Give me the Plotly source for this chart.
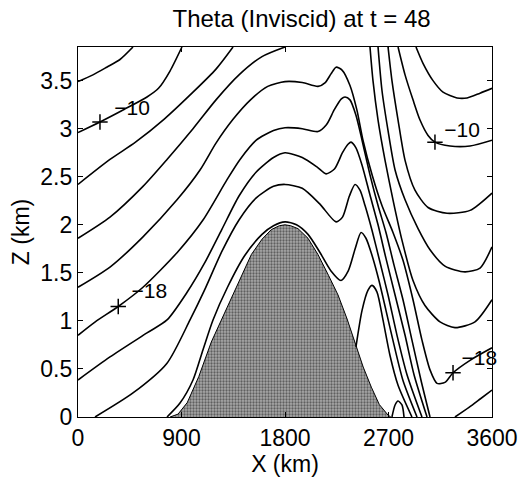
import plotly.graph_objects as go

# ---------------- data (km) ----------------
mountain_x = [800, 870, 950, 1050, 1159, 1250, 1333, 1420, 1507, 1600, 1681, 1750, 1800, 1850, 1913, 2000, 2087, 2180, 2261, 2340, 2406, 2480, 2551, 2620, 2696, 2720]
mountain_z = [0, 0.03, 0.15, 0.42, 0.78, 1.02, 1.23, 1.47, 1.69, 1.85, 1.95, 1.99, 2.0, 1.99, 1.96, 1.86, 1.69, 1.47, 1.27, 1.02, 0.78, 0.52, 0.31, 0.13, 0.02, 0]

# upstream contours leaving through the top
c8a_x = [0, 130, 250, 365, 478]
c8a_z = [3.49, 3.56, 3.64, 3.72, 3.85]
c10a_x = [0, 191, 400, 600, 700, 800, 904]
c10a_z = [2.96, 3.07, 3.20, 3.33, 3.42, 3.60, 3.85]
c12a_x = [0, 278, 500, 750, 1000, 1200, 1348]
c12a_z = [2.42, 2.68, 2.86, 3.10, 3.38, 3.62, 3.85]
c14a_x = [0, 278, 565, 774, 1000, 1200, 1400, 1600, 1800]
c14a_z = [1.86, 2.08, 2.40, 2.68, 3.00, 3.30, 3.56, 3.75, 3.85]

# lee contours entering through the top and turning to the right edge
t1_x = [2939, 3000, 3087, 3174, 3296, 3383, 3496, 3600]
t1_z = [3.85, 3.68, 3.50, 3.38, 3.32, 3.32, 3.37, 3.42]
t2_x = [2783, 2844, 2913, 2974, 3044, 3104, 3235, 3409, 3600]
t2_z = [3.85, 3.56, 3.30, 3.09, 2.93, 2.86, 2.82, 2.82, 2.88]
t3_x = [2696, 2730, 2783, 2844, 2930, 3044, 3209, 3409, 3600]
t3_z = [3.85, 3.50, 3.09, 2.67, 2.36, 2.18, 2.12, 2.15, 2.33]
t4_x = [2609, 2643, 2696, 2757, 2844, 2957, 3061, 3191, 3365, 3496, 3600]
t4_z = [3.85, 3.40, 2.98, 2.57, 2.26, 1.96, 1.74, 1.57, 1.51, 1.55, 1.77]
t5_x = [2539, 2565, 2609, 2670, 2739, 2817, 2913, 3017, 3148, 3278, 3452, 3600]
t5_z = [3.85, 3.50, 3.09, 2.67, 2.26, 1.84, 1.42, 1.16, 0.99, 0.93, 0.99, 1.22]

# contours crossing over the mountain
e_x = [0, 278, 565, 861, 1061, 1200, 1350, 1500, 1650, 1800, 1950, 2087, 2150, 2200, 2244, 2296, 2365, 2426, 2478, 2557, 2643, 2739, 2826, 2913, 2991, 3061, 3122, 3191, 3261, 3409, 3600]
e_z = [1.35, 1.56, 1.875, 2.26, 2.57, 2.85, 3.10, 3.30, 3.44, 3.49, 3.48, 3.44, 3.48, 3.57, 3.64, 3.61, 3.45, 3.19, 2.88, 2.52, 2.20, 1.92, 1.63, 1.22, 0.80, 0.49, 0.35, 0.36, 0.46, 0.59, 0.72]
f_x = [0, 150, 350, 565, 861, 1087, 1296, 1409, 1550, 1700, 1800, 1950, 2087, 2160, 2230, 2290, 2322, 2365, 2417, 2470, 2539, 2609, 2678, 2748, 2826, 2904, 2983, 3061]
f_z = [0.85, 0.99, 1.15, 1.35, 1.71, 2.05, 2.47, 2.68, 2.88, 2.98, 3.01, 3.00, 2.97, 3.04, 3.20, 3.31, 3.33, 3.30, 3.14, 2.88, 2.52, 2.20, 1.92, 1.58, 1.22, 0.80, 0.38, 0]
g_x = [0, 278, 600, 774, 950, 1100, 1250, 1400, 1550, 1700, 1800, 1950, 2080, 2157, 2230, 2300, 2350, 2374, 2417, 2470, 2539, 2609, 2678, 2757, 2844, 2922, 3035]
g_z = [0.385, 0.625, 0.875, 1.01, 1.30, 1.60, 1.95, 2.30, 2.55, 2.70, 2.75, 2.70, 2.60, 2.53, 2.58, 2.75, 2.84, 2.86, 2.80, 2.62, 2.31, 2.00, 1.65, 1.27, 0.85, 0.44, 0]
h_x = [148, 478, 774, 974, 1100, 1250, 1400, 1550, 1700, 1800, 1950, 2100, 2244, 2300, 2360, 2409, 2452, 2496, 2557, 2626, 2696, 2774, 2861, 2991]
h_z = [0, 0.25, 0.56, 1.01, 1.32, 1.72, 2.05, 2.28, 2.40, 2.42, 2.38, 2.22, 2.03, 2.08, 2.30, 2.42, 2.36, 2.20, 1.94, 1.61, 1.27, 0.85, 0.44, 0]
i_x = [774, 887, 1000, 1087, 1174, 1300, 1450, 1600, 1700, 1800, 1900, 2000, 2100, 2200, 2287, 2350, 2410, 2461, 2504, 2557, 2617, 2678, 2748, 2826, 2948]
i_z = [0, 0.145, 0.385, 0.70, 1.01, 1.35, 1.68, 1.90, 1.99, 2.03, 2.00, 1.90, 1.72, 1.52, 1.42, 1.52, 1.75, 1.92, 1.86, 1.68, 1.42, 1.11, 0.75, 0.38, 0]
j_x = [2417, 2470, 2522, 2557, 2600, 2652, 2713, 2783, 2904]
j_z = [0.73, 1.11, 1.32, 1.37, 1.30, 1.01, 0.64, 0.33, 0]
# small closed features near the lee surface and the far-right surface contour
k_x = [2730, 2757, 2783, 2817, 2835]
k_z = [0, 0.125, 0.166, 0.125, 0]
m_x = [3278, 3400, 3500, 3600]
m_z = [0, 0.10, 0.19, 0.28]

# contour labels
label_text = ["\u221210", "\u221218", "\u221210", "\u221218"]
label_x = [470, 620, 3340, 3490]
label_z = [3.20, 1.29, 2.97, 0.60]
mark_x = [191, 350, 3104, 3261]
mark_z = [3.07, 1.15, 2.86, 0.46]

x_ticks = [0, 900, 1800, 2700, 3600]
z_ticks = [0, 0.5, 1, 1.5, 2, 2.5, 3, 3.5]

FONT = "Liberation Sans, Arial, Helvetica"

# ---------------- figure ----------------
fig = go.Figure()
fig.add_trace(go.Scatter(
    x=mountain_x, y=mountain_z, mode="lines", fill="toself",
    fillcolor="#8e8e8e",
    fillpattern=dict(shape=".", fgcolor="#151515", bgcolor="#a8a8a8", size=3, solidity=0.45),
    line=dict(color="black", width=1), hoverinfo="skip", showlegend=False))

lines = [(c8a_x, c8a_z), (c10a_x, c10a_z), (c12a_x, c12a_z), (c14a_x, c14a_z),
         (t1_x, t1_z), (t2_x, t2_z), (t3_x, t3_z), (t4_x, t4_z), (t5_x, t5_z),
         (e_x, e_z), (f_x, f_z), (g_x, g_z), (h_x, h_z), (i_x, i_z), (j_x, j_z),
         (k_x, k_z), (m_x, m_z)]
for lx, lz in lines:
    fig.add_trace(go.Scatter(x=lx, y=lz, mode="lines",
                             line=dict(color="black", width=1.6, shape="spline", smoothing=0.7),
                             hoverinfo="skip", showlegend=False))

fig.add_trace(go.Scatter(x=mark_x, y=mark_z, mode="markers",
                         marker=dict(symbol="cross-thin", size=11, line=dict(color="black", width=1.5)),
                         hoverinfo="skip", showlegend=False))
fig.add_trace(go.Scatter(x=label_x, y=label_z, mode="text", text=label_text,
                         textfont=dict(family=FONT, size=21, color="black"),
                         hoverinfo="skip", showlegend=False, cliponaxis=False))

axis_common = dict(showgrid=False, zeroline=False, showline=True, linecolor="black", linewidth=1.2,
                   mirror="ticks", ticks="inside", ticklen=5, tickcolor="black", automargin=False,
                   tickfont=dict(family=FONT, size=23, color="black"))
fig.update_layout(
    width=522, height=484,
    margin=dict(l=78, r=30, t=47, b=67),
    paper_bgcolor="white", plot_bgcolor="white",
    title=dict(text="Theta (Inviscid) at t = 48", xref="paper", x=0.54, xanchor="center",
               yref="container", y=0.962, yanchor="middle",
               font=dict(family=FONT, size=24, color="black")),
    xaxis=dict(range=[0, 3600], tickvals=x_ticks, ticktext=[str(v) for v in x_ticks],
               title=dict(text="X (km)", standoff=2, font=dict(family=FONT, size=23, color="black")),
               **axis_common),
    yaxis=dict(range=[0, 3.85], tickvals=z_ticks, ticktext=[("%g" % v) for v in z_ticks],
               title=dict(text="Z (km)", standoff=4, font=dict(family=FONT, size=23, color="black")),
               **axis_common),
)
fig.write_html("out.html")
